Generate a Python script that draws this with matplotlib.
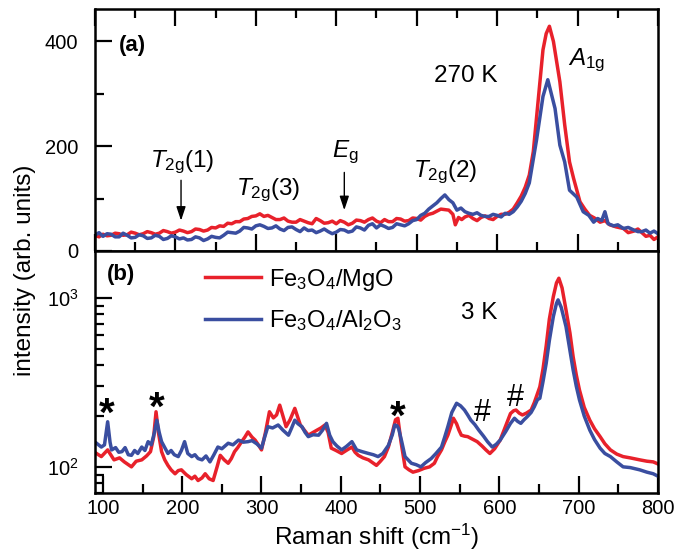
import matplotlib
matplotlib.use("Agg")
import matplotlib.pyplot as plt
from matplotlib.ticker import MultipleLocator, LogLocator, NullFormatter

plt.rcParams['font.family'] = ['Liberation Sans', 'DejaVu Sans']
plt.rcParams['mathtext.fontset'] = 'custom'
plt.rcParams['mathtext.rm'] = 'Liberation Sans'
plt.rcParams['mathtext.it'] = 'Liberation Sans:italic'
plt.rcParams['mathtext.bf'] = 'Liberation Sans:bold'

# (a) 270 K spectra, linear scale
top_x_mgo = [92, 100, 105, 110, 115, 120, 125, 130, 135, 140, 145, 150, 155, 160, 165, 170,
             175, 180, 185, 190, 195, 200, 205, 210, 215, 220, 225, 230, 235, 240, 245,
             250, 255, 260, 265, 270, 275, 280, 285, 290, 295, 300, 305, 310, 315, 320, 325,
             330, 335, 340, 345, 350, 355, 360, 365, 370, 375, 380, 385, 390, 395,
             400, 405, 410, 415, 420, 425, 430, 435, 440, 445, 450, 455, 460, 465, 470, 475,
             480, 485, 490, 495, 500, 505, 510, 515, 520, 525, 530, 535, 540, 545, 548,
             552, 556, 560, 565, 570, 575, 580, 585, 590, 595, 600, 605, 610, 615, 620, 625,
             630, 635, 640, 645, 650, 657, 661, 665, 670,
             678, 684, 690, 695, 703, 709, 715, 721, 728, 734, 740, 748, 757, 763, 770, 775,
             780, 785, 790, 795, 800]
top_y_mgo = [28, 30, 27, 32, 29, 30, 34, 33, 30, 31, 36, 34, 31, 33, 37, 35,
             32, 34, 39, 37, 34, 36, 40, 38, 35, 37, 42, 41, 38, 40, 45,
             44, 48, 47, 53, 52, 56, 56, 61, 62, 66, 67, 71, 66, 68, 64, 60,
             60, 63, 57, 55, 55, 60, 57, 54, 52, 62, 58, 53, 54, 57,
             52, 58, 55, 50, 53, 59, 58, 55, 60, 63, 57, 54, 60, 56, 56, 62,
             61, 57, 58, 63, 62, 59, 66, 70, 72, 76, 80, 79, 78, 70, 50,
             64, 60, 65, 68, 62, 58, 64, 67, 62, 60, 66, 70, 70, 74, 80, 92,
             105, 122, 145, 190, 270, 384, 415, 429, 400,
             323, 241, 170, 139, 94, 80, 68, 63, 55, 58, 50, 46, 43, 35, 38, 42,
             35, 28, 30, 22, 27]

top_x_al = [92, 100, 105, 110, 115, 120, 125, 130, 135, 140, 145, 150, 155, 160, 165, 170,
            175, 180, 185, 190, 195, 200, 205, 210, 215, 220, 225, 230, 235, 240, 245,
            250, 255, 260, 265, 270, 275, 280, 285, 290, 295, 300, 305, 310, 315, 320, 325,
            330, 335, 340, 345, 350, 355, 360, 365, 370, 375, 380, 385, 390, 395, 400,
            405, 410, 415, 420, 425, 430, 435, 440, 445, 450, 455, 460, 465, 470, 475,
            480, 485, 490, 495, 500, 505, 510, 515, 520, 525, 530, 535, 540, 545,
            550, 555, 560, 565, 570, 575, 580, 585, 590, 595, 600, 605, 610, 615, 620, 625,
            630, 635, 640, 649, 657, 663, 672, 678, 684,
            690, 699, 707, 714, 720, 725, 730, 734, 738, 745, 750, 757, 763, 770, 775, 780,
            785, 790, 795, 800]
top_y_al = [31, 30, 35, 28, 33, 32, 27, 27, 34, 30, 25, 26, 31, 29, 24, 25,
            30, 28, 22, 24, 29, 27, 23, 25, 21, 22, 27, 25, 20, 23, 28,
            26, 25, 30, 36, 35, 34, 38, 45, 44, 42, 48, 50, 47, 43, 44, 48,
            42, 39, 45, 46, 41, 37, 44, 39, 40, 35, 38, 42, 37, 33, 36,
            41, 40, 36, 38, 46, 44, 40, 49, 52, 44, 50, 47, 43, 45, 52,
            50, 48, 52, 58, 60, 68, 72, 80, 86, 92, 100, 107, 98, 92,
            78, 82, 75, 72, 70, 73, 68, 66, 66, 70, 68, 65, 72, 70, 75, 84,
            95, 110, 130, 212, 295, 327, 272, 202, 170,
            116, 103, 75, 68, 55, 62, 58, 75, 52, 48, 50, 43, 45, 40, 37, 37,
            40, 34, 38, 33]

# (b) 3 K spectra, log scale
bot_x_mgo = [92, 98, 106, 114, 121, 127, 136, 142, 149, 155, 160, 164, 167, 170, 174, 178,
             182, 186, 191, 195, 199, 205, 212, 216, 220, 225, 229, 234, 239, 244, 248, 253,
             258, 262, 266, 270, 275, 279, 283, 288, 292, 296, 300, 305, 310, 315, 319, 323,
             327, 331, 336, 342, 346, 349, 354, 359, 365, 370, 375, 380, 384, 388, 394, 401,
             408, 414, 418, 422, 428, 435, 440, 445, 450, 455, 460, 465, 469, 472, 476, 481,
             486, 491, 498, 505, 512, 518, 522, 527, 531, 535, 539, 542, 546, 549, 552, 556,
             560, 566, 572, 578, 583, 588, 594, 601, 607, 614, 618, 621, 625, 629, 634, 640,
             644, 648, 651, 655, 659, 663, 668, 672, 675, 679, 684, 689, 693, 697, 701, 707,
             714, 720, 727, 733, 740, 748, 756, 765, 777, 786, 794, 800]
bot_y_mgo = [120, 115, 126, 110, 113, 107, 100, 108, 110, 116, 123, 150, 212, 160, 123, 110,
             102, 96, 91, 95, 96, 90, 85, 88, 83, 86, 91, 85, 83, 100, 117, 110,
             105, 112, 123, 130, 141, 150, 161, 150, 144, 135, 126, 160, 212, 195, 203, 232,
             200, 173, 190, 222, 195, 177, 165, 154, 160, 165, 170, 177, 160, 129, 125, 120,
             126, 131, 122, 117, 113, 110, 106, 102, 108, 115, 131, 160, 190, 194, 140, 100,
             96, 93, 95, 98, 100, 105, 115, 126, 140, 154, 175, 194, 180, 165, 154, 152,
             151, 146, 141, 133, 126, 120, 128, 144, 170, 207, 215, 217, 208, 203, 208, 217,
             240, 272, 298, 380, 520, 750, 1019, 1230, 1310, 1150, 850, 620, 449, 350, 285, 225,
             189, 168, 151, 137, 126, 119, 115, 113, 110, 108, 107, 104]

bot_x_al = [92, 98, 102, 106, 109, 111, 116, 120, 124, 128, 132, 136, 140, 144, 149, 153,
            157, 161, 165, 168, 171, 174, 178, 182, 186, 190, 195, 199, 203, 207, 212, 216,
            220, 225, 230, 235, 240, 245, 250, 258, 264, 271, 277, 283, 288, 294, 300, 304,
            308, 314, 321, 327, 334, 338, 342, 346, 351, 355, 359, 365, 372, 377, 382, 386,
            390, 395, 401, 407, 414, 420, 427, 435, 441, 447, 453, 460, 465, 468, 471, 473,
            477, 481, 485, 489, 495, 501, 507, 514, 520, 527, 531, 535, 540, 546, 551, 556,
            560, 564, 569, 574, 580, 585, 591, 596, 601, 608, 614, 619, 623, 627, 631, 635,
            640, 644, 648, 651, 655, 659, 663, 668, 672, 674, 678, 684, 689, 693, 697, 701,
            707, 714, 720, 727, 733, 740, 748, 756, 765, 777, 786, 794, 800]
bot_y_al = [138, 131, 135, 185, 140, 126, 130, 122, 123, 130, 118, 117, 125, 120, 131, 125,
            141, 135, 160, 189, 160, 141, 130, 120, 125, 118, 115, 125, 141, 120, 115, 118,
            112, 110, 116, 107, 118, 131, 128, 138, 135, 144, 140, 141, 143, 137, 129, 150,
            173, 170, 177, 165, 154, 170, 189, 180, 173, 160, 151, 155, 154, 165, 181, 154,
            141, 133, 126, 132, 141, 126, 123, 120, 118, 115, 120, 134, 155, 177, 175, 168,
            140, 115, 110, 105, 103, 100, 106, 112, 120, 131, 150, 173, 210, 238, 230, 217,
            203, 189, 178, 165, 152, 141, 131, 136, 144, 162, 181, 194, 186, 181, 190, 198,
            210, 227, 250, 255, 320, 410, 560, 776, 930, 975, 880, 677, 490, 375, 300, 249,
            200, 165, 145, 129, 120, 115, 107, 100, 99, 96, 93, 91, 88]

red = '#e8212b'
blue = '#3a4ea0'
lw = 2.5

fig = plt.figure(figsize=(6.75, 5.52), dpi=100)
ax1 = fig.add_axes([0.1407, 0.5453, 0.8341, 0.4384])
ax2 = fig.add_axes([0.1407, 0.1069, 0.8341, 0.4384])

ax1.plot(top_x_mgo, top_y_mgo, color=red, lw=lw)
ax1.plot(top_x_al, top_y_al, color=blue, lw=lw)
ax2.plot(bot_x_mgo, bot_y_mgo, color=red, lw=lw, label=r'Fe$_3$O$_4$/MgO')
ax2.plot(bot_x_al, bot_y_al, color=blue, lw=lw, label=r'Fe$_3$O$_4$/Al$_2$O$_3$')

ax1.set_xlim(100, 800)
ax1.set_ylim(0, 462)
ax2.set_xlim(90, 800)
ax2.set_yscale('log')
ax2.set_ylim(70, 1900)

for ax in (ax1, ax2):
    for s in ax.spines.values():
        s.set_linewidth(1.8)
    ax.xaxis.set_major_locator(MultipleLocator(100))
    ax.xaxis.set_minor_locator(MultipleLocator(50))
    ax.tick_params(which='both', direction='in', width=1.6, right=False)
    ax.tick_params(which='major', length=12, labelsize=14.5)
    ax.tick_params(which='minor', length=6.5)
    ax.tick_params(axis='y', pad=12)
    ax.tick_params(axis='x', pad=4)

ax1.yaxis.set_major_locator(MultipleLocator(200))
ax1.yaxis.set_minor_locator(MultipleLocator(100))
ax1.tick_params(which='both', top=True, labelbottom=False)
ax2.tick_params(which='both', top=False)
ax2.yaxis.set_major_locator(LogLocator(base=10))
ax2.yaxis.set_minor_locator(LogLocator(base=10, subs=range(2, 10)))
ax2.yaxis.set_minor_formatter(NullFormatter())

ax2.set_xlabel(r'Raman shift (cm$^{-1}$)', fontsize=17.5, labelpad=3)
fig.text(0.037, 0.511, 'intensity (arb. units)', rotation=90, fontsize=17.5,
         ha='center', va='center')

# panel (a) labels
fs = 17.5
ax1.text(147, 392, '(a)', fontsize=16, fontweight='bold', ha='center', va='center')
ax1.text(561, 334, '270 K', fontsize=fs, ha='center', va='center')
ax1.text(688, 365, r'$A_{\rm 1g}$', fontsize=fs, ha='left', va='center')
ax1.text(209, 170, r'$T_{\rm 2g}$(1)', fontsize=fs, ha='center', va='center')
ax1.text(315, 116, r'$T_{\rm 2g}$(3)', fontsize=fs, ha='center', va='center')
ax1.text(411, 189, r'$E_{\rm g}$', fontsize=fs, ha='center', va='center')
ax1.text(535, 151, r'$T_{\rm 2g}$(2)', fontsize=fs, ha='center', va='center')
arrow = dict(arrowstyle='-|>,head_length=0.6,head_width=0.2', lw=1, color='k',
             mutation_scale=14, shrinkA=0, shrinkB=0)
ax1.annotate('', xy=(207, 58), xytext=(207, 135), arrowprops=arrow)
ax1.annotate('', xy=(410, 78), xytext=(410, 150), arrowprops=arrow)

# panel (b) labels
ax2.text(123, 1371, '(b)', fontsize=16, fontweight='bold', ha='center', va='center')
ax2.text(575, 813, '3 K', fontsize=fs, ha='center', va='center')
for xs, ys in [(105, 174), (168, 189), (472, 169)]:
    ax2.text(xs, ys, '*', fontsize=29, fontweight='bold', ha='center', va='baseline')
for xs, ys in [(578, 187), (620, 229)]:
    ax2.text(xs, ys, '#', fontsize=22, ha='center', va='baseline')

ax2.legend(loc='upper left', bbox_to_anchor=(0.195, 0.935), frameon=False, fontsize=17,
           handlelength=2.4, handletextpad=0.3, labelspacing=0.65, borderpad=0,
           borderaxespad=0)

plt.savefig('out.png', dpi=100)
